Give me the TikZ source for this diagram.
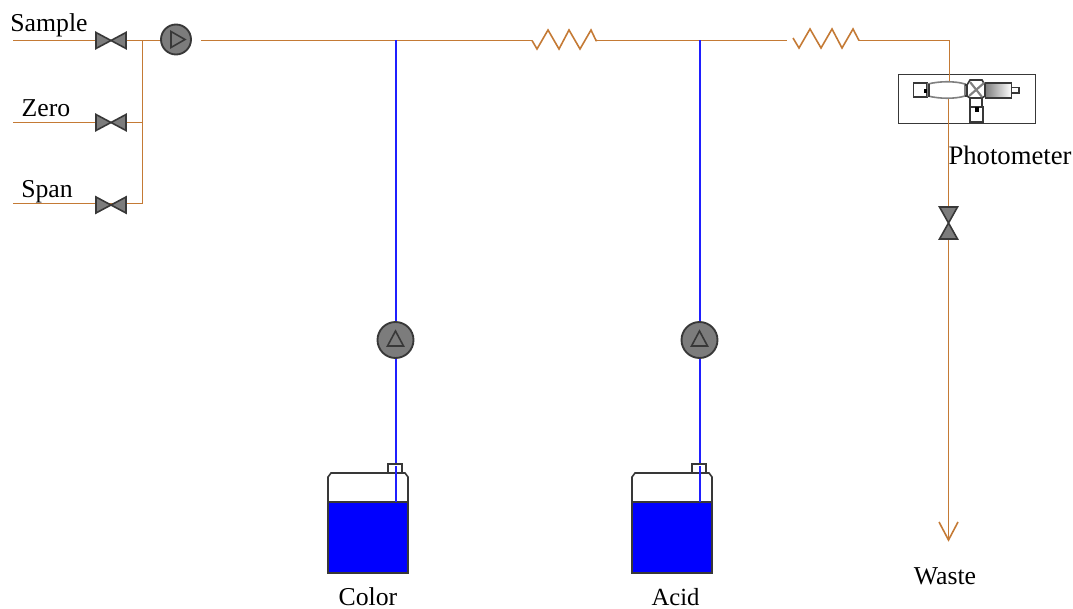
\documentclass[tikz,border=0pt]{standalone}
\usepackage{fontspec}
\setmainfont{Liberation Serif}
\definecolor{pipe}{HTML}{C47A35}
\definecolor{reagent}{HTML}{1F1FFF}
\definecolor{edgegray}{HTML}{383838}
\definecolor{fillgray}{HTML}{7C7C7C}
\tikzset{
  x=0.75pt,y=-0.75pt,
  pipeline/.style={draw=pipe,line width=1.2pt},
  reagentline/.style={draw=reagent,line width=1.5pt},
  part/.style={draw=edgegray,line width=1.2pt},
  gray part/.style={part,fill=fillgray},
  pump/.style={circle,draw=edgegray,line width=1.4pt,fill=fillgray,inner sep=0pt},
  label/.style={font=\fontsize{19.3pt}{22pt}\selectfont,text=black,inner sep=0pt},
  valvepoint/.style={inner sep=0pt,minimum size=0pt},
  hvalve/.pic={\draw[gray part] (-15,-8)--(15,8)--(15,-8)--(-15,8)--cycle;},
  vvalve/.pic={\draw[gray part] (-9,-16)--(9,-16)--(-9,16)--(9,16)--cycle;},
  bottle/.pic={
    \fill[white] (-40,-50)--(-40,-95)--(-36,-100)--(36,-100)--(40,-95)--(40,-50)--cycle;
    \draw[part] (-40,-71)--(-40,-96)--(-37,-100)--(37,-100)--(40,-96)--(40,-71);
    \draw[part,fill=white] (20,-100) rectangle (34,-109);
    \draw[part,fill=blue] (-40,-71) rectangle (40,0);
  },
}
\begin{document}
\begin{tikzpicture}
\useasboundingbox (0,0) rectangle (1073,609);
% free ends and junctions
\coordinate (inS) at (13,40.5);
\coordinate (inZ) at (13,122.5);
\coordinate (inC) at (13,203.5);
\coordinate (jS) at (142.5,40.5);
\coordinate (jZ) at (142.5,122.5);
\coordinate (jC) at (142.5,203.5);
\coordinate (mainstart) at (201,40.5);
\coordinate (j1) at (395.5,40.5);
\coordinate (j2) at (699.5,40.5);
\coordinate (r1a) at (532,40.5);
\coordinate (r1b) at (597,40.5);
\coordinate (r2a) at (787,40.5);
\coordinate (r2b) at (859,40.5);
\coordinate (corner) at (949.5,40.5);
\coordinate (celltop) at (949.5,83);
\coordinate (cellbot) at (948.5,98);
\coordinate (wasteend) at (948.5,540);
\coordinate (b1in) at (395.5,502);
\coordinate (b2in) at (699.5,502);
% pipes
\draw[pipeline] (inS) -- (jS) -- (160,40.5);
\draw[pipeline] (inZ) -- (jZ);
\draw[pipeline] (inC) -- (jC) -- (jZ) -- (jS);
\draw[pipeline] (mainstart) -- (r1a);
\draw[pipeline] (r1a) -- (537,49) -- (548,30) -- (559,49) -- (569,30) -- (580,49) -- (591,30) -- (596,40.5) -- (r1b);
\draw[pipeline] (r1b) -- (r2a);
\draw[pipeline] (793,38) -- (799,48) -- (810,29) -- (821,48) -- (832,29) -- (842,48) -- (853,29) -- (r2b);
\draw[pipeline] (r2b) -- (corner) -- (celltop);
\draw[pipeline] (cellbot) -- (wasteend);
\draw[pipeline] (939,522) -- (wasteend) -- (958,522);
% reagent lines
\draw[reagentline] (j1) -- (b1in);
\draw[reagentline] (j2) -- (b2in);
% valves
\node[valvepoint] (v1) at (111,40.5) {};
\node[valvepoint] (v2) at (111,122.5) {};
\node[valvepoint] (v3) at (111,205) {};
\node[valvepoint] (v4) at (948.5,223) {};
\pic at (v1) {hvalve};
\pic at (v2) {hvalve};
\pic at (v3) {hvalve};
\pic at (v4) {vvalve};
% pumps
\node[pump,minimum size=22.5pt] (p1) at (176,39.5) {};
\draw[part] (171,31.5) -- (185,39.5) -- (171,47.5) -- cycle;
\node[pump,minimum size=27pt] (p2) at (395.5,340) {};
\draw[part] (387.5,346) -- (395.5,331) -- (403.5,346) -- cycle;
\node[pump,minimum size=27pt] (p3) at (699.5,340) {};
\draw[part] (691.5,346) -- (699.5,331) -- (707.5,346) -- cycle;
% bottles
\begin{scope}[shift={(368,573)}]
  \pic {bottle};
\end{scope}
\begin{scope}[shift={(672,573)}]
  \pic {bottle};
\end{scope}
\draw[reagentline] (b1in) -- (395.5,466);
\draw[reagentline] (b2in) -- (699.5,466);
% photometer
\node[draw=edgegray,line width=1.2pt,fill=white,minimum width=102.5pt,minimum height=37pt,inner sep=0pt] (box) at (967,99) {};
\draw[pipeline] (949.5,74) -- (celltop);
\draw[pipeline] (cellbot) -- (948.5,124);
\draw[part,fill=white] (913.5,83) rectangle (927,97);
\fill[black] (924,89) rectangle (927,93);
\draw[part,draw=gray,fill=white] (928,84) .. controls (940,81) and (955,81) .. (965,84) -- (965,96) .. controls (955,99) and (940,99) .. (928,96) -- cycle;
\draw[part] (929,84) -- (929,97);
\draw[part] (965,85) -- (970,85);
\draw[part] (965,96) -- (970,96);
\draw[part,fill=white] (970,80) -- (982,80) -- (985,85) -- (985,96) -- (982,98) -- (970,98) -- (967,96) -- (967,85) -- cycle;
\draw[part,draw=gray,line width=1.6pt] (969,96) -- (984,83);
\draw[part,draw=gray,line width=1.6pt] (970,82) -- (982,97);
\draw[part] (970,98) -- (970,107);
\draw[part] (982,98) -- (982,107);
\draw[part,left color=gray,right color=white] (985.5,83) rectangle (1011.5,98);
\draw[part,fill=white] (1011.5,87.5) rectangle (1019,93);
\draw[part,fill=white] (970,107) rectangle (983,122);
\fill[black] (975,107) rectangle (979,112);
% labels
\node[label] (t1) at (49,25.5) {Sample};
\node[label] (t2) at (46,108.5) {Zero};
\node[label] (t3) at (47,191.5) {Span};
\node[label,font=\fontsize{20pt}{22pt}\selectfont] (t4) at (1010,155) {Photometer};
\node[label] (t5) at (368,596.5) {Color};
\node[label,font=\fontsize{18.5pt}{22pt}\selectfont] (t6) at (675.5,597) {Acid};
\node[label] (t7) at (945,576.5) {Waste};
\end{tikzpicture}
\end{document}
